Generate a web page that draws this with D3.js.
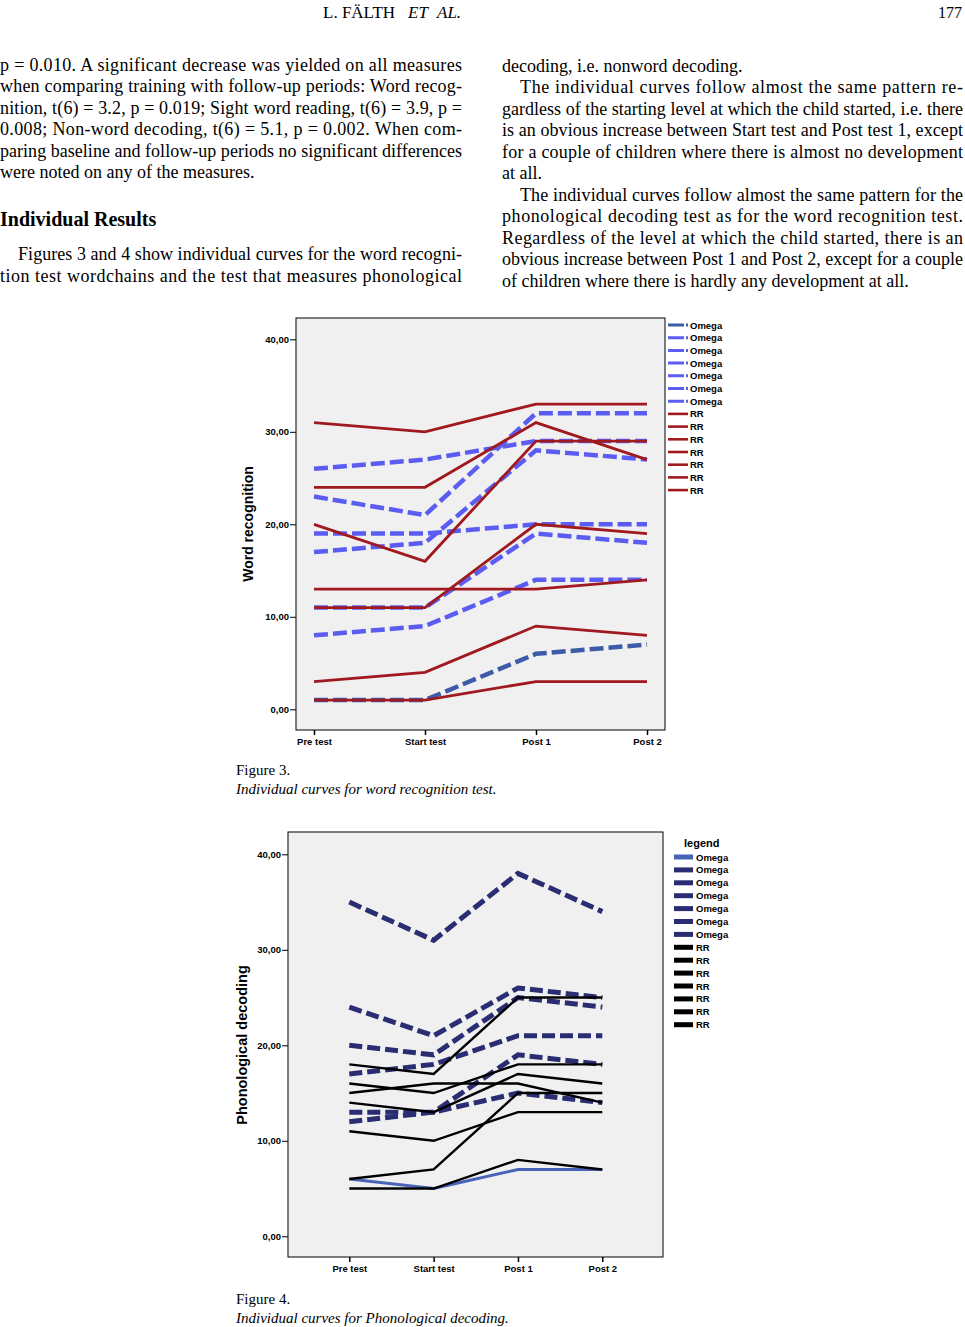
<!DOCTYPE html>
<html><head><meta charset="utf-8">
<script src="https://cdn.jsdelivr.net/npm/d3@7"></script>
<style>html,body{margin:0;padding:0;background:#fff;}svg{display:block;}</style>
</head><body>
<svg id="page" width="965" height="1327"></svg>
<script>
// ---------- DATA ----------
const categories = ["Pre test", "Start test", "Post 1", "Post 2"];
const yTicks = [0, 10, 20, 30, 40];

// Figure 3 – Word recognition
const wordOmega = [
  [1, 1, 6, 7],
  [26, 27, 29, 29],
  [23, 21, 32, 32],
  [19, 19, 20, 20],
  [17, 18, 28, 27],
  [11, 11, 19, 18],
  [8, 9, 14, 14]
];
const wordRR = [
  [31, 30, 33, 33],
  [24, 24, 31, 27],
  [20, 16, 29, 29],
  [13, 13, 13, 14],
  [11, 11, 20, 19],
  [3, 4, 9, 8],
  [1, 1, 3, 3]
];

// Figure 4 – Phonological decoding
const phonOmega = [
  [6, 5, 7, 7],
  [35, 31, 38, 34],
  [24, 21, 26, 25],
  [20, 19, 25, 24],
  [17, 18, 21, 21],
  [13, 13, 19, 18],
  [12, 13, 15, 14]
];
const phonRR = [
  [18, 17, 25, 25],
  [16, 15, 18, 18],
  [15, 16, 16, 14],
  [14, 13, 17, 16],
  [11, 10, 13, 13],
  [6, 7, 15, 15],
  [5, 5, 8, 7]
];

const legendLabels3 = ["Omega","Omega","Omega","Omega","Omega","Omega","Omega","RR","RR","RR","RR","RR","RR","RR"];
const legendLabels4 = legendLabels3;

// ---------- PAGE TEXT ----------
const svg = d3.select("#page");
const serif = "'Liberation Serif','Times New Roman',serif";
const sans = "'Liberation Sans',Arial,Helvetica,sans-serif";

function tline(x, y, str, opt = {}) {
  const t = svg.append("text")
    .attr("x", x).attr("y", y)
    .attr("font-family", opt.family || serif)
    .attr("font-size", opt.size || 18)
    .attr("fill", "#000")
    .text(str);
  if (opt.italic) t.attr("font-style", "italic");
  if (opt.bold) t.attr("font-weight", "bold");
  if (opt.width) t.attr("textLength", opt.width).attr("lengthAdjust", "spacing");
  if (opt.anchor) t.attr("text-anchor", opt.anchor);
  return t;
}

// header
tline(323, 18, "L. FÄLTH", {size: 17});
tline(408, 18, "ET", {size: 17, italic: true});
tline(437, 18, "AL.", {size: 17, italic: true});
tline(962, 18, "177", {size: 16, anchor: "end"});

const L0 = 0, LW = 462, R0 = 502, RW = 461, IND = 18;
const base = 70.5, lh = 21.5;
const leftLines = [
  ["p = 0.010. A significant decrease was yielded on all measures", true, false],
  ["when comparing training with follow-up periods: Word recog-", true, false],
  ["nition, t(6) = 3.2, p = 0.019; Sight word reading, t(6) = 3.9, p =", true, false],
  ["0.008; Non-word decoding, t(6) = 5.1, p = 0.002. When com-", true, false],
  ["paring baseline and follow-up periods no significant differences", true, false],
  ["were noted on any of the measures.", false, false]
];
leftLines.forEach((l, i) => {
  const x = l[2] ? L0 + IND : L0;
  tline(x, base + i * lh, l[0], l[1] ? {width: LW - (x - L0)} : {});
});
tline(0, 225.5, "Individual Results", {bold: true, size: 20});
tline(L0 + IND, 260, "Figures 3 and 4 show individual curves for the word recogni-", {width: LW - IND});
tline(L0, 281.5, "tion test wordchains and the test that measures phonological", {width: LW});

const rightLines = [
  ["decoding, i.e. nonword decoding.", false, false],
  ["The individual curves follow almost the same pattern re-", true, true],
  ["gardless of the starting level at which the child started, i.e. there", true, false],
  ["is an obvious increase between Start test and Post test 1, except", true, false],
  ["for a couple of children where there is almost no development", true, false],
  ["at all.", false, false],
  ["The individual curves follow almost the same pattern for the", true, true],
  ["phonological decoding test as for the word recognition test.", true, false],
  ["Regardless of the level at which the child started, there is an", true, false],
  ["obvious increase between Post 1 and Post 2, except for a couple", true, false],
  ["of children where there is hardly any development at all.", false, false]
];
rightLines.forEach((l, i) => {
  const x = l[2] ? R0 + IND : R0;
  tline(x, base + 1 + i * lh, l[0], l[1] ? {width: RW - (x - R0)} : {});
});

// captions
tline(236, 775, "Figure 3.", {size: 15});
tline(236, 794, "Individual curves for word recognition test.", {size: 15, italic: true});
tline(236, 1304, "Figure 4.", {size: 15});
tline(236, 1323, "Individual curves for Phonological decoding.", {size: 15, italic: true});

// ---------- CHART DRAWING ----------
const fmt = d => d.toFixed(2).replace(".", ",");

function drawChart(cfg) {
  const g = svg.append("g");
  const x = d3.scalePoint().domain(categories).range(cfg.xRange);
  const y = d3.scaleLinear().domain([0, 40]).range(cfg.yRange);

  g.append("rect").attr("x", cfg.box[0]).attr("y", cfg.box[1])
    .attr("width", cfg.box[2] - cfg.box[0]).attr("height", cfg.box[3] - cfg.box[1])
    .attr("fill", "#f0f0f0").attr("stroke", "#000").attr("stroke-width", 1);

  const yAxis = g.append("g").attr("transform", `translate(${cfg.box[0]},0)`)
    .call(d3.axisLeft(y).tickValues(yTicks).tickFormat(fmt).tickSize(6).tickPadding(1));
  yAxis.select(".domain").remove();
  yAxis.selectAll("text").attr("font-family", sans).attr("font-weight", "bold")
    .attr("font-size", 9.5).attr("fill", "#000");
  yAxis.selectAll("line").attr("stroke", "#000");

  const xAxis = g.append("g").attr("transform", `translate(0,${cfg.box[3]})`)
    .call(d3.axisBottom(x).tickSize(5).tickPadding(3));
  xAxis.select(".domain").remove();
  xAxis.selectAll("text").attr("font-family", sans).attr("font-weight", "bold")
    .attr("font-size", 9.5).attr("fill", "#000");
  xAxis.selectAll("line").attr("stroke", "#000").attr("stroke-width", 1.5);

  g.append("text")
    .attr("transform", `translate(${cfg.titlePos[0]},${cfg.titlePos[1]}) rotate(-90)`)
    .attr("text-anchor", "middle").attr("dominant-baseline", "central")
    .attr("font-family", sans).attr("font-weight", "bold").attr("font-size", cfg.titleSize)
    .text(cfg.title);

  const line = d3.line().x((d, i) => x(categories[i])).y(d => y(d));
  const lines = g.append("g");
  cfg.omega.forEach((s, i) => {
    const st = cfg.omegaStyle(i);
    lines.append("path").attr("d", line(s)).attr("fill", "none")
      .attr("stroke", st.color).attr("stroke-width", st.width)
      .attr("stroke-dasharray", st.dash || null).attr("stroke-linejoin", "miter");
  });
  cfg.rr.forEach(s => {
    lines.append("path").attr("d", line(s)).attr("fill", "none")
      .attr("stroke", cfg.rrColor).attr("stroke-width", cfg.rrWidth)
      .attr("stroke-linejoin", "miter");
  });

  // legend
  const lg = g.append("g");
  if (cfg.legendTitle) {
    lg.append("text").attr("x", cfg.legendTitle[1]).attr("y", cfg.legendTitle[2])
      .attr("font-family", sans).attr("font-weight", "bold").attr("font-size", 11)
      .attr("dominant-baseline", "central").text(cfg.legendTitle[0]);
  }
  cfg.legendLabels.forEach((lab, i) => {
    const yy = cfg.legY0 + i * cfg.legDy;
    const isOmega = i < cfg.omega.length;
    const st = isOmega ? cfg.omegaStyle(i) : {color: cfg.rrColor, width: cfg.rrWidth};
    lg.append("line").attr("x1", cfg.swX[0]).attr("x2", cfg.swX[1])
      .attr("y1", yy).attr("y2", yy)
      .attr("stroke", st.color).attr("stroke-width", cfg.swWidth(isOmega))
      .attr("stroke-dasharray", isOmega && cfg.swDash ? cfg.swDash : null);
    lg.append("text").attr("x", cfg.legTextX).attr("y", yy)
      .attr("dominant-baseline", "central")
      .attr("font-family", sans).attr("font-weight", "bold").attr("font-size", 9.5)
      .text(lab);
  });
}

drawChart({
  box: [296, 318, 665, 730],
  xRange: [314, 647],
  yRange: [709.3, 339.3],
  title: "Word recognition",
  titleSize: 14,
  titlePos: [248, 524],
  omega: wordOmega,
  rr: wordRR,
  omegaStyle: i => ({color: i === 0 ? "#3d5ba8" : "#5b5cf2", width: 4.5, dash: "14,5"}),
  rrColor: "#a0191f",
  rrWidth: 2.8,
  legendLabels: legendLabels3,
  legY0: 325, legDy: 12.7,
  swX: [668, 688],
  swDash: "16,2,2,2",
  swWidth: o => o ? 3 : 2.6,
  legTextX: 690
});

drawChart({
  box: [288, 832, 663, 1257],
  xRange: [349.3, 602.3],
  yRange: [1236.3, 854.3],
  title: "Phonological decoding",
  titleSize: 14.5,
  titlePos: [242, 1045],
  omega: phonOmega,
  rr: phonRR,
  omegaStyle: i => i === 0 ? {color: "#4863b8", width: 3} : {color: "#2a2d72", width: 5, dash: "13,5"},
  rrColor: "#000",
  rrWidth: 2.4,
  legendTitle: ["legend", 684, 842.5],
  legendLabels: legendLabels4,
  legY0: 857, legDy: 12.9,
  swX: [674, 693],
  swDash: null,
  swWidth: o => 5,
  legTextX: 696
});
</script>
</body></html>
